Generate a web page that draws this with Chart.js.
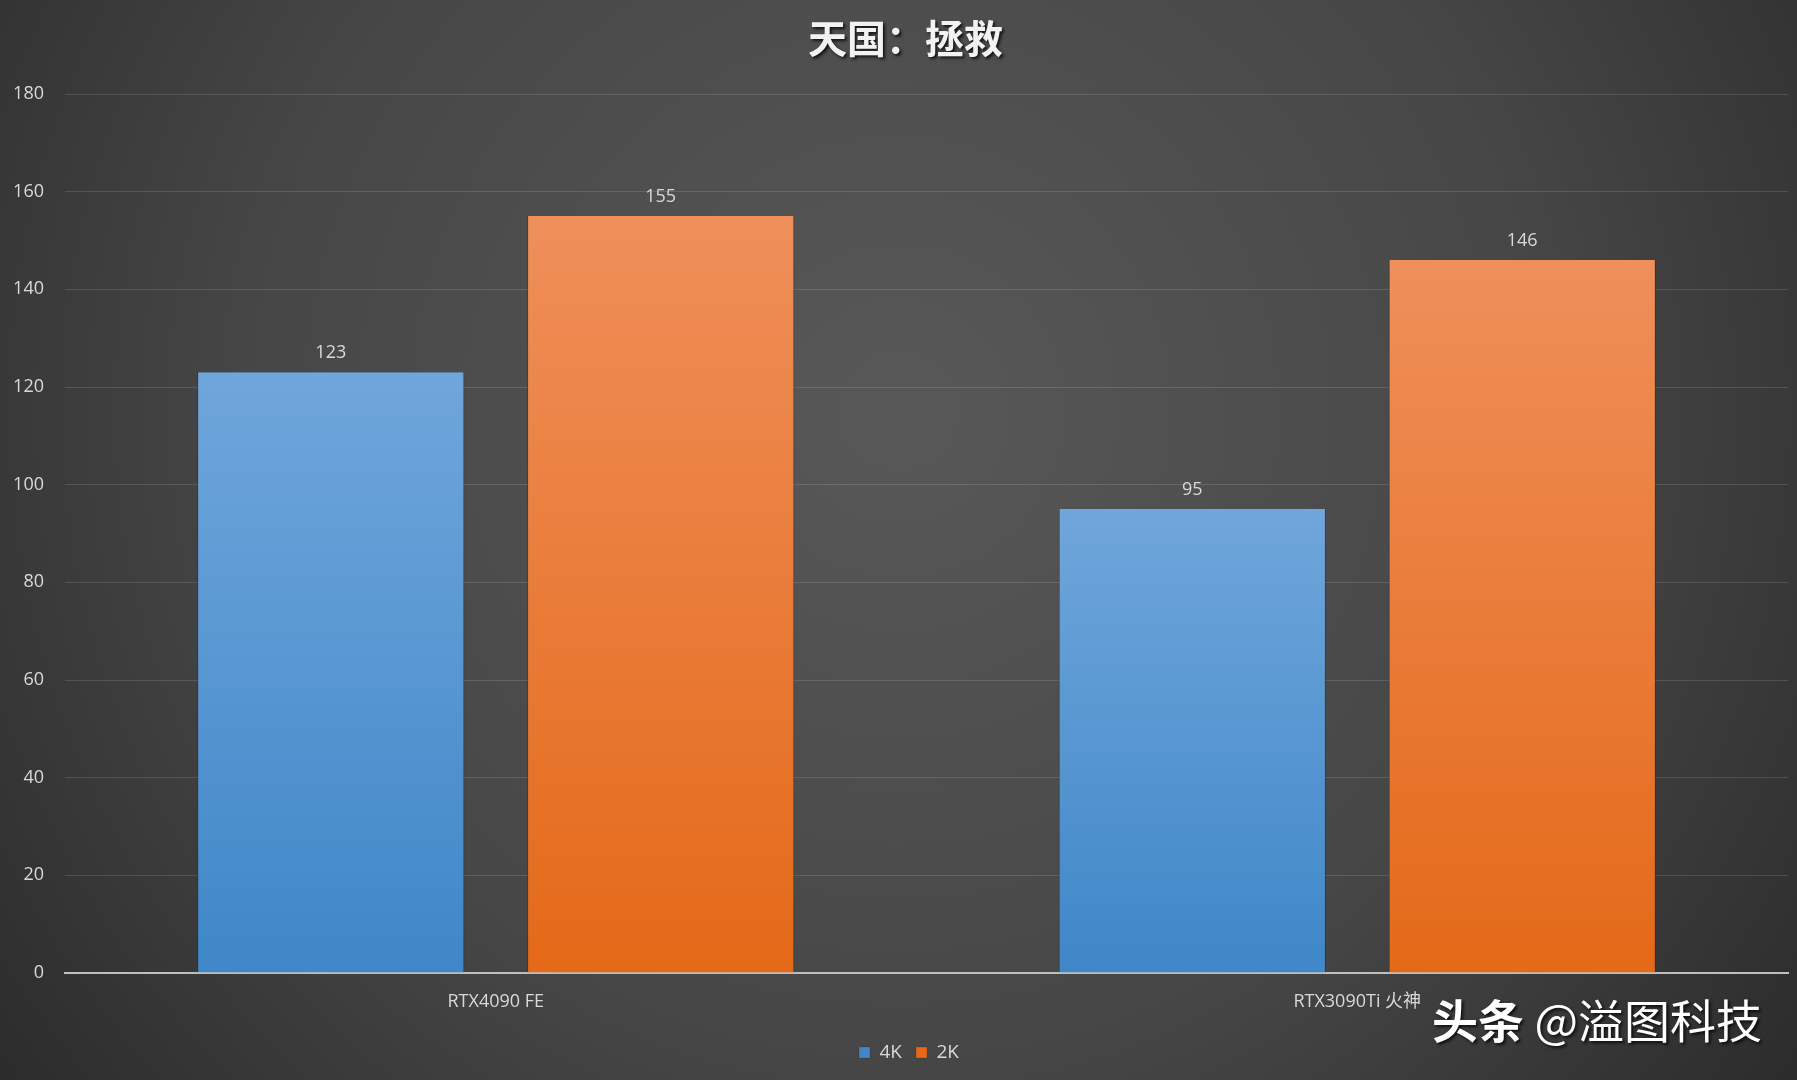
<!DOCTYPE html>
<html>
<head>
<meta charset="utf-8">
<script src="https://cdn.jsdelivr.net/npm/chart.js@4.4.1/dist/chart.umd.min.js"></script>
<style>
  html, body { margin: 0; padding: 0; background: #3a3a3a; }
  #wrap { width: 1797px; height: 1080px; position: relative; }
</style>
</head>
<body>
<div id="wrap"><canvas id="myChart" width="1797" height="1080"></canvas></div>
<script>
// chart data
const categories = ['RTX4090 FE', 'RTX3090Ti 火神'];
const seriesNames = ['4K', '2K'];
const values4K = [123, 95];
const values2K = [155, 146];
const yTicks = [0, 20, 40, 60, 80, 100, 120, 140, 160, 180];

const titleText = '天国：拯救';
const FONT = "'Open Sans', 'Noto Sans CJK SC', sans-serif";
const CJK = "'Noto Sans CJK SC', 'Open Sans', sans-serif";

// vertical gradient for each bar, from its top to the axis
function barFill(light, dark, solid) {
    return function(c) {
        const chart = c.chart;
        if (!chart.chartArea || c.type !== 'data') return solid;
        const y = chart.scales.y;
        const top = y.getPixelForValue(c.raw);
        const bottom = y.getPixelForValue(0);
        const g = chart.ctx.createLinearGradient(0, top, 0, bottom);
        g.addColorStop(0, light);
        g.addColorStop(1, dark);
        return g;
    };
}

// background, title, value labels and watermark
const decor = {
    id: 'decor',
    afterLayout(chart) {
        // legend sits a little right of the canvas centre
        if (chart.legend) {
            chart.legend.left += 15;
            chart.legend.right += 15;
        }
    },
    beforeDraw(chart) {
        const { ctx, width, height } = chart;
        ctx.save();
        const g = ctx.createRadialGradient(width * 0.5, height * 0.38, 50, width * 0.5, height * 0.38, 1150);
        g.addColorStop(0, '#575757');
        g.addColorStop(0.55, '#464646');
        g.addColorStop(1, '#2a2a2a');
        ctx.fillStyle = g;
        ctx.fillRect(0, 0, width, height);
        ctx.restore();
    },
    afterDatasetsDraw(chart) {
        const { ctx } = chart;
        ctx.save();
        ctx.font = '18px ' + FONT;
        ctx.fillStyle = '#d9d9d9';
        ctx.textAlign = 'center';
        ctx.textBaseline = 'bottom';
        chart.data.datasets.forEach((ds, i) => {
            chart.getDatasetMeta(i).data.forEach((bar, j) => {
                ctx.fillText(ds.data[j], bar.x, bar.y - 10);
            });
        });
        ctx.restore();
    },
    afterDraw(chart) {
        const { ctx, width } = chart;
        ctx.save();
        ctx.shadowColor = 'rgba(0,0,0,0.75)';
        ctx.shadowOffsetX = 2;
        ctx.shadowOffsetY = 2;
        ctx.shadowBlur = 3;
        ctx.fillStyle = '#f2f2f2';
        ctx.textAlign = 'center';
        ctx.textBaseline = 'middle';
        ctx.font = 'bold 39px ' + CJK;
        ctx.fillText(titleText, width / 2 + 7, 38);

        // watermark
        ctx.fillStyle = '#ffffff';
        ctx.textAlign = 'left';
        ctx.font = 'bold 46px ' + CJK;
        ctx.fillText('头条', 1432, 1021);
        const w = ctx.measureText('头条 ').width;
        ctx.font = '46px ' + CJK;
        ctx.fillText('@溢图科技', 1432 + w, 1021);
        ctx.restore();
    }
};

const ctx = document.getElementById('myChart').getContext('2d');
window.myChart = new Chart(ctx, {
    type: 'bar',
    data: {
        labels: categories,
        datasets: [{
            label: seriesNames[0],
            data: values4K,
            backgroundColor: barFill('#6fa6db', '#3f87c8', '#5b9bd5'),
            borderColor: 'rgba(30,30,30,0.35)',
            borderWidth: { left: 1, right: 1, top: 0, bottom: 0 },
            categoryPercentage: 0.766,
            barPercentage: 0.81
        }, {
            label: seriesNames[1],
            data: values2K,
            backgroundColor: barFill('#ef8f5a', '#e46918', '#ed7d31'),
            borderColor: 'rgba(30,30,30,0.35)',
            borderWidth: { left: 1, right: 1, top: 0, bottom: 0 },
            categoryPercentage: 0.766,
            barPercentage: 0.81
        }]
    },
    options: {
        responsive: false,
        animation: false,
        layout: { padding: { top: 94, right: 9, left: 0, bottom: 8 } },
        plugins: {
            title: { display: false },
            tooltip: { enabled: false },
            legend: {
                position: 'bottom',
                labels: {
                    color: '#d9d9d9',
                    font: { size: 19, family: FONT },
                    boxWidth: 11,
                    boxHeight: 11,
                    padding: 14
                }
            }
        },
        scales: {
            x: {
                grid: { display: false, drawTicks: false },
                border: { display: true, color: '#bfbfbf', width: 2 },
                ticks: { color: '#d9d9d9', font: { size: 18, family: FONT }, padding: 18 },
                afterFit: (s) => { s.height = 56; }
            },
            y: {
                min: 0,
                max: 180,
                afterBuildTicks: (s) => { s.ticks = yTicks.map(v => ({ value: v })); },
                grid: { color: 'rgba(255,255,255,0.13)', lineWidth: 1, drawTicks: false },
                border: { display: false },
                ticks: { color: '#d9d9d9', font: { size: 18, family: FONT }, padding: 21 },
                afterFit: (s) => { s.width = 65; }
            }
        }
    },
    plugins: [decor]
});
</script>
</body>
</html>
